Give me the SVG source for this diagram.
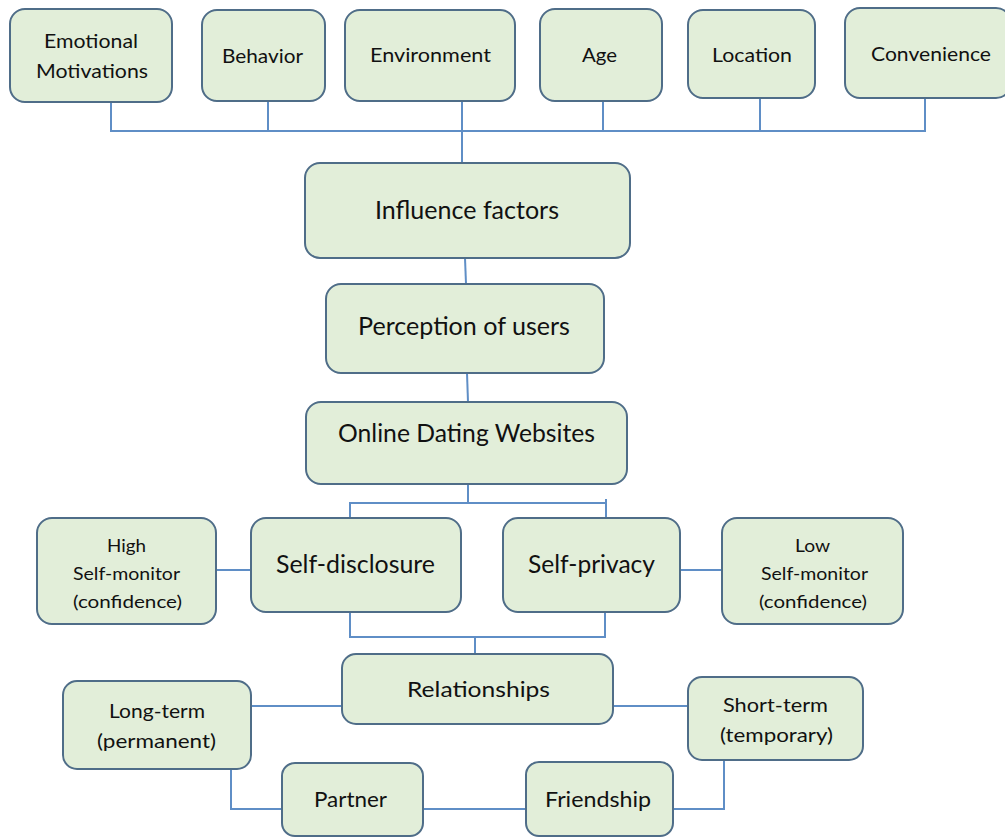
<svg xmlns="http://www.w3.org/2000/svg" width="1005" height="837" viewBox="0 0 1005 837">
  <style>
    .box { fill: #e2eed9; stroke: #4f6d88; stroke-width: 2; }
    .link { fill: none; stroke: #5f8ec6; stroke-width: 2; }
    .lbl { font-family: Lato, "Open Sans", "Liberation Sans", sans-serif; fill: #111; text-anchor: middle; }
    .s20 { font-size: 20px; }
    .s18 { font-size: 18px; }
    .s24 { font-size: 25px; }
    .s21 { font-size: 21px; }
  </style>
  <rect width="1005" height="837" fill="#ffffff"/>

  <!-- connectors -->
  <g id="connectors">
    <!-- factor bus -->
    <polyline class="link" points="111,102 111,131 925,131 925,98"/>
    <line class="link" x1="268" y1="101" x2="268" y2="131"/>
    <line class="link" x1="462" y1="101" x2="462" y2="163"/>
    <line class="link" x1="603" y1="98" x2="603" y2="131"/>
    <line class="link" x1="760" y1="98" x2="760" y2="131"/>
    <!-- main chain -->
    <line class="link" x1="465" y1="258" x2="466" y2="284"/>
    <line class="link" x1="467" y1="373" x2="468" y2="402"/>
    <line class="link" x1="468" y1="484" x2="468" y2="503"/>
    <polyline class="link" points="350,518 350,503 606,503"/>
    <line class="link" x1="606" y1="499" x2="606" y2="518"/>
    <!-- monitor links -->
    <line class="link" x1="216" y1="570" x2="251" y2="570"/>
    <line class="link" x1="680" y1="570" x2="722" y2="570"/>
    <!-- merge into relationships -->
    <polyline class="link" points="350,612 350,637 605,637 605,612"/>
    <line class="link" x1="475" y1="637" x2="475" y2="654"/>
    <!-- relationship types -->
    <line class="link" x1="251" y1="706" x2="342" y2="706"/>
    <line class="link" x1="613" y1="706" x2="688" y2="706"/>
    <line class="link" x1="178" y1="769" x2="231" y2="769"/>
    <polyline class="link" points="231,769 231,809 282,809"/>
    <line class="link" x1="423" y1="809" x2="526" y2="809"/>
    <polyline class="link" points="673,809 724,809 724,760"/>
    <line class="link" x1="724" y1="760" x2="776" y2="760"/>
  </g>

  <g id="emotional">
    <rect class="box" x="10" y="9" width="162" height="93" rx="15"/>
    <text class="lbl s20" x="91" y="48" textLength="94" lengthAdjust="spacingAndGlyphs">Emotional</text>
    <text class="lbl s20" x="92" y="78" textLength="112" lengthAdjust="spacingAndGlyphs">Motivations</text>
  </g>
  <g id="behavior">
    <rect class="box" x="202" y="10" width="123" height="91" rx="15"/>
    <text class="lbl s20" x="262.5" y="63" textLength="81" lengthAdjust="spacingAndGlyphs">Behavior</text>
  </g>
  <g id="environment">
    <rect class="box" x="345" y="10" width="170" height="91" rx="15"/>
    <text class="lbl s20" x="430.5" y="62" textLength="121" lengthAdjust="spacingAndGlyphs">Environment</text>
  </g>
  <g id="age">
    <rect class="box" x="540" y="9" width="122" height="92" rx="15"/>
    <text class="lbl s20" x="599.5" y="62" textLength="35" lengthAdjust="spacingAndGlyphs">Age</text>
  </g>
  <g id="location">
    <rect class="box" x="688" y="10" width="127" height="88" rx="15"/>
    <text class="lbl s20" x="752" y="62" textLength="80" lengthAdjust="spacingAndGlyphs">Location</text>
  </g>
  <g id="convenience">
    <rect class="box" x="845" y="8" width="166" height="90" rx="15"/>
    <text class="lbl s20" x="931" y="61" textLength="120" lengthAdjust="spacingAndGlyphs">Convenience</text>
  </g>

  <g id="influence">
    <rect class="box" x="305" y="163" width="325" height="95" rx="15"/>
    <text class="lbl s24" x="467" y="219" textLength="184" lengthAdjust="spacingAndGlyphs">Influence factors</text>
  </g>
  <g id="perception">
    <rect class="box" x="326" y="284" width="278" height="89" rx="15"/>
    <text class="lbl s24" x="464" y="335" textLength="212" lengthAdjust="spacingAndGlyphs">Perception of users</text>
  </g>
  <g id="dating-sites">
    <rect class="box" x="306" y="402" width="321" height="82" rx="15"/>
    <text class="lbl s24" x="466.5" y="442" textLength="257" lengthAdjust="spacingAndGlyphs">Online Dating Websites</text>
  </g>

  <g id="high-monitor">
    <rect class="box" x="37" y="518" width="179" height="106" rx="15"/>
    <text class="lbl s18" x="126.5" y="552" textLength="39" lengthAdjust="spacingAndGlyphs">High</text>
    <text class="lbl s18" x="126.5" y="580" textLength="107" lengthAdjust="spacingAndGlyphs">Self-monitor</text>
    <text class="lbl s18" x="127.5" y="608" textLength="109" lengthAdjust="spacingAndGlyphs">(confidence)</text>
  </g>
  <g id="self-disclosure">
    <rect class="box" x="251" y="518" width="210" height="94" rx="15"/>
    <text class="lbl s24" x="355.5" y="573" textLength="159" lengthAdjust="spacingAndGlyphs">Self-disclosure</text>
  </g>
  <g id="self-privacy">
    <rect class="box" x="503" y="518" width="177" height="94" rx="15"/>
    <text class="lbl s24" x="591.5" y="573" textLength="127" lengthAdjust="spacingAndGlyphs">Self-privacy</text>
  </g>
  <g id="low-monitor">
    <rect class="box" x="722" y="518" width="181" height="106" rx="15"/>
    <text class="lbl s18" x="812.5" y="552" textLength="35" lengthAdjust="spacingAndGlyphs">Low</text>
    <text class="lbl s18" x="814.5" y="580" textLength="107" lengthAdjust="spacingAndGlyphs">Self-monitor</text>
    <text class="lbl s18" x="813" y="608" textLength="108" lengthAdjust="spacingAndGlyphs">(confidence)</text>
  </g>

  <g id="relationships">
    <rect class="box" x="342" y="654" width="271" height="70" rx="14"/>
    <text class="lbl s21" x="478.5" y="697" textLength="143" lengthAdjust="spacingAndGlyphs">Relationships</text>
  </g>
  <g id="long-term">
    <rect class="box" x="63" y="681" width="188" height="88" rx="14"/>
    <text class="lbl s20" x="157" y="718" textLength="96" lengthAdjust="spacingAndGlyphs">Long-term</text>
    <text class="lbl s20" x="156.5" y="748" textLength="119" lengthAdjust="spacingAndGlyphs">(permanent)</text>
  </g>
  <g id="short-term">
    <rect class="box" x="688" y="677" width="175" height="83" rx="14"/>
    <text class="lbl s20" x="775.5" y="712" textLength="105" lengthAdjust="spacingAndGlyphs">Short-term</text>
    <text class="lbl s20" x="776.5" y="742" textLength="113" lengthAdjust="spacingAndGlyphs">(temporary)</text>
  </g>
  <g id="partner">
    <rect class="box" x="282" y="763" width="141" height="73" rx="13"/>
    <text class="lbl s21" x="350.5" y="807" textLength="73" lengthAdjust="spacingAndGlyphs">Partner</text>
  </g>
  <g id="friendship">
    <rect class="box" x="526" y="762" width="147" height="74" rx="13"/>
    <text class="lbl s21" x="598" y="807" textLength="106" lengthAdjust="spacingAndGlyphs">Friendship</text>
  </g>
</svg>
